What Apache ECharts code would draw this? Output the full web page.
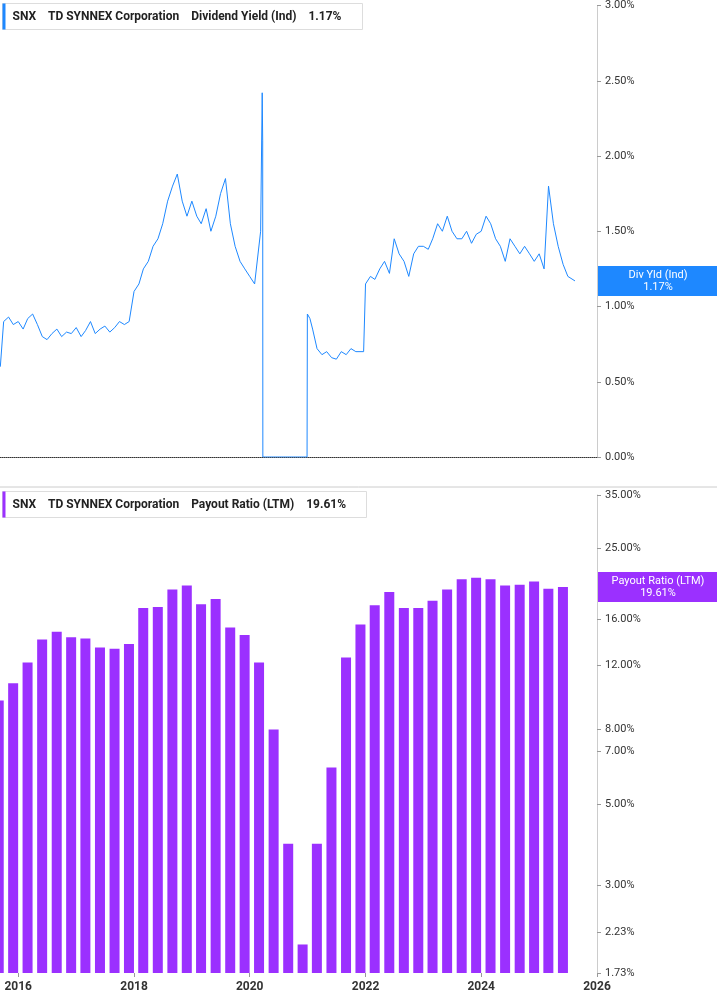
<!DOCTYPE html>
<html><head><meta charset="utf-8">
<script src="https://cdn.jsdelivr.net/npm/echarts@6/dist/echarts.min.js"></script>
<style>html,body{margin:0;padding:0;background:#fff}#c{width:717px;height:1005px}</style>
</head><body><div id="c"></div>
<script>
// Dividend yield (%), roughly monthly
const yldDates = ['2015-09-10','2015-10-01','2015-11-01','2015-12-01',
'2016-01-01','2016-02-01','2016-03-01','2016-04-01','2016-05-01','2016-06-01','2016-07-01','2016-08-01','2016-09-01','2016-10-01','2016-11-01','2016-12-01',
'2017-01-01','2017-02-01','2017-03-01','2017-04-01','2017-05-01','2017-06-01','2017-07-01','2017-08-01','2017-09-01','2017-10-01','2017-11-01','2017-12-01',
'2018-01-01','2018-02-01','2018-03-01','2018-04-01','2018-05-01','2018-06-01','2018-07-01','2018-08-01','2018-09-01','2018-10-01','2018-11-01','2018-12-01',
'2019-01-01','2019-02-01','2019-03-01','2019-04-01','2019-05-01','2019-06-01','2019-07-01','2019-08-01','2019-09-01','2019-10-01','2019-11-01','2019-12-01',
'2020-01-01','2020-02-01','2020-03-10','2020-03-20','2020-03-23','2020-03-24','2020-12-28','2020-12-30',
'2021-01-15','2021-02-01','2021-03-01','2021-04-01','2021-05-01','2021-06-01','2021-07-01','2021-08-01','2021-09-01','2021-10-01','2021-11-01','2021-12-20',
'2022-01-01','2022-02-01','2022-03-01','2022-04-01','2022-05-01','2022-06-01','2022-07-01','2022-08-01','2022-09-01','2022-10-01','2022-11-01','2022-12-01',
'2023-01-01','2023-02-01','2023-03-01','2023-04-01','2023-05-01','2023-06-01','2023-07-01','2023-08-01','2023-09-01','2023-10-01','2023-11-01','2023-12-01',
'2024-01-01','2024-02-01','2024-03-01','2024-04-01','2024-05-01','2024-06-01','2024-07-01','2024-08-01','2024-09-01','2024-10-01','2024-11-01','2024-12-01',
'2025-01-01','2025-02-01','2025-03-01','2025-04-01','2025-05-01','2025-06-01','2025-07-01','2025-08-15'];
const yldValues = [0.6,0.9,0.93,0.88,
0.9,0.85,0.92,0.95,0.88,0.8,0.78,0.82,0.85,0.8,0.83,0.82,
0.86,0.8,0.84,0.9,0.82,0.85,0.87,0.83,0.86,0.9,0.88,0.9,
1.1,1.15,1.25,1.3,1.4,1.45,1.55,1.7,1.8,1.88,1.7,1.6,
1.7,1.6,1.55,1.65,1.5,1.6,1.75,1.85,1.55,1.4,1.3,1.25,
1.2,1.15,1.5,2.42,2.1,0,0,0.95,
0.92,0.85,0.72,0.68,0.7,0.66,0.65,0.7,0.68,0.72,0.7,0.7,
1.15,1.2,1.18,1.25,1.3,1.22,1.45,1.35,1.3,1.2,1.35,1.4,
1.4,1.38,1.45,1.55,1.5,1.6,1.5,1.45,1.45,1.5,1.42,1.48,
1.5,1.6,1.55,1.45,1.4,1.3,1.45,1.4,1.35,1.4,1.35,1.3,
1.35,1.25,1.8,1.55,1.4,1.28,1.2,1.17];
// Payout ratio (LTM, %), quarterly
const payDates = ['2015-08-31','2015-11-30','2016-02-29','2016-05-31','2016-08-31','2016-11-30','2017-02-28','2017-05-31','2017-08-31','2017-11-30',
'2018-02-28','2018-05-31','2018-08-31','2018-11-30','2019-02-28','2019-05-31','2019-08-31','2019-11-30','2020-02-29','2020-05-31',
'2020-08-31','2020-11-30','2021-02-28','2021-05-31','2021-08-31','2021-11-30','2022-02-28','2022-05-31','2022-08-31','2022-11-30',
'2023-02-28','2023-05-31','2023-08-31','2023-11-30','2024-02-29','2024-05-31','2024-08-31','2024-11-30','2025-02-28','2025-05-31'];
const payValues = [9.6,10.7,12.2,14.1,14.8,14.3,14.2,13.4,13.3,13.7,
17.2,17.3,19.3,19.8,17.6,18.2,15.2,14.5,12.2,8.0,
3.9,2.07,3.9,6.3,12.6,15.5,17.5,19.0,17.2,17.2,
18.0,19.3,20.6,20.8,20.6,19.8,19.9,20.3,19.4,19.61];
const yldTicks = [0,0.5,1,1.5,2,2.5,3];
const payTicks = [1.73,2.23,3,5,7,8,12,16,25,35];
const xYears = ['2016','2018','2020','2022','2024','2026'];

const L = Math.log;
const T = d => +new Date(d);
const chart = echarts.init(document.getElementById('c'));
const font = 'Roboto, "Noto Sans", sans-serif';
const xMin = T('2015-09-08'), xMax = T('2026-01-01');
chart.setOption({
  animation:false,
  grid:[{left:0,right:120,top:2,height:455},{left:0,right:120,top:495,bottom:32}],
  xAxis:[
    {gridIndex:0,type:'value',min:xMin,max:xMax,splitLine:{show:false},axisTick:{show:false},axisLabel:{show:false},
     axisLine:{show:true,lineStyle:{color:'#333',type:'dotted'}}},
    {gridIndex:1,type:'value',min:xMin,max:xMax,splitLine:{show:false},axisLine:{show:false},
     axisTick:{show:true,length:4,lineStyle:{color:'#999'},customValues:xYears.map(y=>T(y+'-01-01'))},
     axisLabel:{show:true,color:'#333',fontSize:12,fontFamily:font,fontWeight:'bold',
      customValues:xYears.map(y=>T(y+'-01-01')),formatter:v=>String(new Date(v).getUTCFullYear())}}
  ],
  yAxis:[
    {gridIndex:0,type:'value',position:'right',min:0,max:3,interval:0.5,splitLine:{show:false},
     axisLine:{show:true,lineStyle:{color:'#ccc'}},axisTick:{show:true,length:4,lineStyle:{color:'#999'}},
     axisLabel:{color:'#333',fontSize:11,fontFamily:font,margin:8,formatter:v=>v.toFixed(2)+'%'}},
    {gridIndex:1,type:'value',position:'right',min:L(1.73),max:L(35),splitLine:{show:false},
     axisLine:{show:true,lineStyle:{color:'#ccc'}},
     axisTick:{show:true,length:4,lineStyle:{color:'#999'},customValues:payTicks.map(L)},
     axisLabel:{color:'#333',fontSize:11,fontFamily:font,margin:8,customValues:payTicks.map(L),
       formatter:v=>Math.exp(v).toFixed(2)+'%'}}
  ],
  series:[
    {type:'line',xAxisIndex:0,yAxisIndex:0,showSymbol:false,lineStyle:{color:'#1e88ff',width:1},
     data:yldDates.map((d,i)=>[T(d),yldValues[i]])},
    {type:'bar',xAxisIndex:1,yAxisIndex:1,barWidth:10,itemStyle:{color:'#9b30ff'},
     data:payDates.map((d,i)=>[T(d),L(payValues[i])])}
  ]
});
function header(y,color,label){
  return {type:'group',left:2,top:y,children:[
    {type:'rect',shape:{x:0,y:0,width:label.w,height:26},style:{fill:'#fff',stroke:'#ddd'}},
    {type:'rect',shape:{x:0,y:0,width:3,height:26},style:{fill:color}},
    {type:'text',x:10,y:7,style:{text:label.t,fontSize:12,fontWeight:'bold',fontFamily:font,fill:'#222'}}
  ]};
}
const py1 = chart.convertToPixel({yAxisIndex:0},1.17);
const py2 = chart.convertToPixel({yAxisIndex:1},L(19.61));
function tag(y,color,t1,t2){
  return {type:'group',left:598,top:y-15,children:[
    {type:'rect',shape:{x:0,y:0,width:119,height:30},style:{fill:color}},
    {type:'text',x:60,y:3,style:{text:t1+'\n'+t2,fontSize:11,fontFamily:font,fill:'#fff',align:'center',lineHeight:12}}
  ]};
}
chart.setOption({graphic:[
  {type:'line',shape:{x1:0,y1:487,x2:717,y2:487},style:{stroke:'#ccc'}},
  header(3,'#1e88ff',{w:360,t:'SNX    TD SYNNEX Corporation    Dividend Yield (Ind)    1.17%'}),
  header(491,'#9b30ff',{w:364,t:'SNX    TD SYNNEX Corporation    Payout Ratio (LTM)    19.61%'}),
  tag(py1,'#1e88ff','Div Yld (Ind)','1.17%'),
  tag(py2,'#9b30ff','Payout Ratio (LTM)','19.61%')
]});
</script></body></html>
